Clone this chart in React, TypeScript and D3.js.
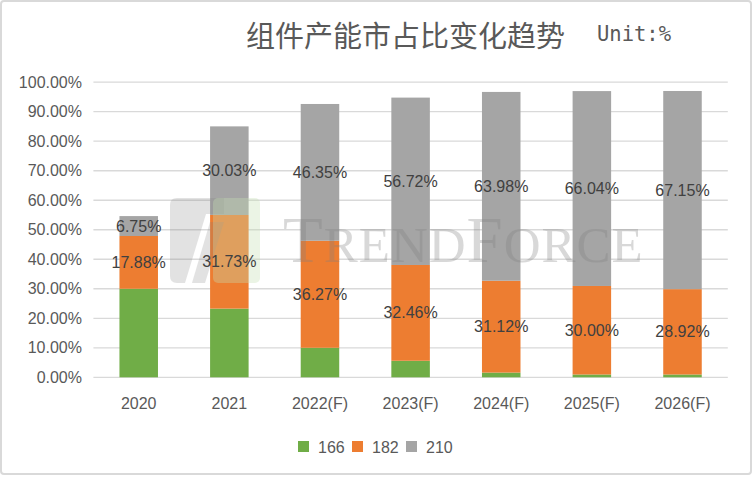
import React from 'react';
import * as d3 from 'd3';

const years = ['2020', '2021', '2022(F)', '2023(F)', '2024(F)', '2025(F)', '2026(F)'];
const s166 = [30.0, 23.27, 10.0, 5.6, 1.6, 0.95, 0.95];
const s182 = [17.88, 31.73, 36.27, 32.46, 31.12, 30.0, 28.92];
const s210 = [6.75, 30.03, 46.35, 56.72, 63.98, 66.04, 67.15];
const seriesNames = ['166', '182', '210'];
const yTicks = [0, 10, 20, 30, 40, 50, 60, 70, 80, 90, 100];

const colors: Record<string, string> = { '166': '#70ad47', '182': '#ed7d31', '210': '#a5a5a5' };

const W = 752;
const H = 477;

const App: React.FC = () => {
  const rows = years.map((y, i) => ({ year: y, '166': s166[i], '182': s182[i], '210': s210[i] }));
  const stacked = d3.stack<any>().keys(seriesNames)(rows);

  const x = d3.scaleBand<string>()
    .domain(years)
    .range([93.4, 727.8])
    .paddingInner(0.575)
    .paddingOuter(0.2875);
  const y = d3.scaleLinear().domain([0, 100]).range([377.3, 82.2]);

  const font = '"Liberation Sans", Arial, sans-serif';
  const legendX = [298, 352, 406];

  return (
    <svg width={W} height={H} style={{ position: 'absolute', left: 0, top: 0, background: '#fff' }}>
      <rect x={1} y={1} width={W - 2} height={H - 4} rx={3} fill="#fff" stroke="#d9d9d9" strokeWidth={2} />

      {/* title */}
      <text x={246} y={34} dominantBaseline="central" fontFamily='"Noto Sans CJK SC", sans-serif' fontSize={29} fill="#595959">
        组件产能市占比变化趋势
      </text>
      <text x={597} y={34} dominantBaseline="central" fontFamily='"DejaVu Sans Mono", monospace' fontSize={20.5} fill="#595959">
        Unit:%
      </text>

      {/* gridlines + y labels */}
      {yTicks.map((t) => (
        <g key={t}>
          <line x1={93.4} x2={727.8} y1={y(t)} y2={y(t)} stroke="#d9d9d9" strokeWidth={1.3} />
          <text x={82} y={y(t)} dy="0.35em" textAnchor="end" fontFamily={font} fontSize={16} fill="#595959">
            {t.toFixed(2)}%
          </text>
        </g>
      ))}

      {/* bars */}
      {stacked.map((layer) => (
        <g key={layer.key}>
          {layer.map((d, i) => (
            <rect
              key={i}
              x={x(years[i])!}
              width={x.bandwidth()}
              y={y(d[1])}
              height={y(d[0]) - y(d[1])}
              fill={colors[layer.key]}
            />
          ))}
        </g>
      ))}

      {/* watermark */}
      <g opacity={0.22}>
        <path d="M170,205 Q170,198 177,198 L224,198 L224,214 L206,214 L185,283 L177,283 Q170,283 170,276 Z" fill="#808080" />
        <path d="M210,222 L224,222 L205,283 L192,283 Z" fill="#808080" />
      </g>
      <rect x={213} y={198} width={47} height={85} rx={5} fill="#c5e0b4" opacity={0.35} />
      <text x={283} y={262} fontFamily='"Liberation Serif", serif' fill="#808080" opacity={0.3} letterSpacing={1}>
        <tspan fontSize={65}>T</tspan>
        <tspan fontSize={51}>REND</tspan>
        <tspan fontSize={65}>F</tspan>
        <tspan fontSize={51}>ORCE</tspan>
      </text>

      {/* data labels */}
      {stacked.filter((l) => l.key !== '166').map((layer) => (
        <g key={'lab' + layer.key}>
          {layer.map((d, i) => (
            <text
              key={i}
              x={x(years[i])! + x.bandwidth() / 2}
              y={y((d[0] + d[1]) / 2)}
              dy="0.35em"
              textAnchor="middle"
              fontFamily={font}
              fontSize={16}
              fill="#404040"
            >
              {(d[1] - d[0]).toFixed(2)}%
            </text>
          ))}
        </g>
      ))}

      {/* x labels */}
      {years.map((yr) => (
        <text key={yr} x={x(yr)! + x.bandwidth() / 2} y={403} dy="0.35em" textAnchor="middle" fontFamily={font} fontSize={16} fill="#595959">
          {yr}
        </text>
      ))}

      {/* legend */}
      {seriesNames.map((s, i) => (
        <g key={s}>
          <rect x={legendX[i]} y={441} width={11} height={11} fill={colors[s]} />
          <text x={legendX[i] + 20} y={447} dy="0.35em" fontFamily={font} fontSize={16} fill="#595959">
            {s}
          </text>
        </g>
      ))}
    </svg>
  );
};

export default App;
